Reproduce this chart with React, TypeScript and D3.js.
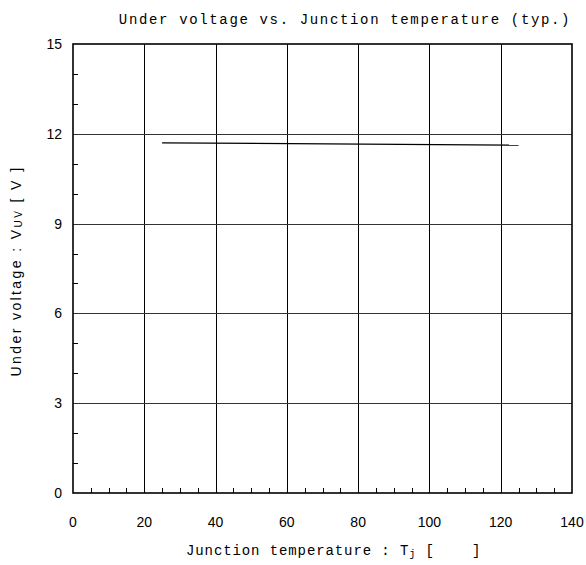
import React from "react";
import * as d3 from "d3";

const title = "Under voltage vs. Junction temperature (typ.)";
const xMajorTicks = [0, 20, 40, 60, 80, 100, 120, 140];
const yMajorTicks = [0, 3, 6, 9, 12, 15];
const tjValues = [25, 125];
const vuvValues = [11.7, 11.62];

const W = 586;
const H = 565;
const left = 73;
const right = 572;
const top = 44;
const bottom = 493;

export default function App() {
  const x = d3.scaleLinear().domain([0, 140]).range([left, right]);
  const y = d3.scaleLinear().domain([0, 15]).range([bottom, top]);
  const xMinor = d3.range(0, 141, 5).filter((v) => v % 20 !== 0);
  const yMinor = d3.range(0, 16, 1).filter((v) => v % 3 !== 0);
  const pts: [number, number][] = tjValues.map((t, i) => [t, vuvValues[i]]);
  const line = d3
    .line<[number, number]>()
    .x((d) => x(d[0]))
    .y((d) => y(d[1]));
  const px = (v: number) => Math.round(v) + 0.5;
  const mono = "'Liberation Mono', 'DejaVu Sans Mono', monospace";
  const sans = "'Liberation Sans', Arial, sans-serif";

  return (
    <svg width={W} height={H} style={{ position: "absolute", left: 0, top: 0, background: "#fff" }}>
      <rect x={0} y={0} width={W} height={H} fill="#fff" />
      {/* grid */}
      {xMajorTicks.slice(1, -1).map((v) => (
        <line key={"gx" + v} x1={px(x(v))} x2={px(x(v))} y1={top} y2={bottom} stroke="#000" strokeWidth={1} />
      ))}
      {yMajorTicks.slice(1, -1).map((v) => (
        <line key={"gy" + v} x1={left} x2={right} y1={px(y(v))} y2={px(y(v))} stroke="#333" strokeWidth={1} />
      ))}
      {/* minor ticks */}
      {xMinor.map((v) => (
        <line key={"mx" + v} x1={px(x(v))} x2={px(x(v))} y1={bottom} y2={bottom - 5} stroke="#000" strokeWidth={1} />
      ))}
      {yMinor.map((v) => (
        <line key={"my" + v} x1={left} x2={left + 5} y1={px(y(v))} y2={px(y(v))} stroke="#000" strokeWidth={1} />
      ))}
      {/* frame */}
      <rect x={left} y={top} width={right - left} height={bottom - top} fill="none" stroke="#000" strokeWidth={1.6} />
      {/* data */}
      <path d={line(pts) || ""} fill="none" stroke="#000" strokeWidth={1.2} />
      {/* tick labels */}
      {xMajorTicks.map((v) => (
        <text key={"tx" + v} x={x(v)} y={527} textAnchor="middle" fontFamily={sans} fontSize={14} fill="#000">
          {v}
        </text>
      ))}
      {yMajorTicks.map((v) => (
        <text key={"ty" + v} x={62} y={y(v) + 5} textAnchor="end" fontFamily={sans} fontSize={14} fill="#000">
          {v}
        </text>
      ))}
      {/* title */}
      <text x={345} y={24} textAnchor="middle" fontFamily={mono} fontSize={14} letterSpacing={1.65} fill="#000">
        {title}
      </text>
      {/* x label */}
      <text x={186} y={555} textAnchor="start" fontFamily={mono} fontSize={14} letterSpacing={0.9} fill="#000" xmlSpace="preserve" style={{ whiteSpace: "pre" }}>
        {"Junction temperature : T"}
        <tspan fontSize={10} dy={2}>j</tspan>
        <tspan dy={-2}>{" [    ]"}</tspan>
      </text>
      {/* y label */}
      <text
        transform={`translate(21, 271) rotate(-90)`}
        textAnchor="middle"
        fontFamily={sans}
        fontSize={14}
        letterSpacing={2.4}
        fill="#000"
        xmlSpace="preserve"
        style={{ whiteSpace: "pre" }}
      >
        {"Under voltage : V"}
        <tspan fontSize={10} dy={1}>UV</tspan>
        <tspan dy={-1}>{" [ V ]"}</tspan>
      </text>
    </svg>
  );
}
